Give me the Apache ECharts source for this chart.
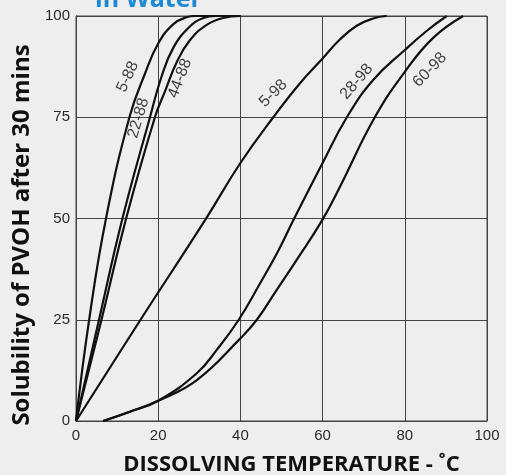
<!DOCTYPE html>
<html><head><meta charset="utf-8">
<script src="https://cdn.jsdelivr.net/npm/echarts@6/dist/echarts.min.js"></script>
<style>html,body{margin:0;padding:0;background:#eeeeee}#c{width:506px;height:475px}</style>
</head><body><div id="c"></div>
<script>
// Tick values
const xTicks = [0, 20, 40, 60, 80, 100];
const yTicks = [0, 25, 50, 75, 100];
// Curve names
const curveNames = ['5-88', '22-88', '44-88', '5-98', '28-98', '60-98'];
// Curve values [temperature, solubility]
const s5_88  = [[0,0],[3.2,25],[7.3,50],[13,75],[16.8,85.8],[20,93.2],[23.7,98],[26.9,99.7],[29,100],[40,100]];
const s22_88 = [[0,0],[5.6,25],[11.3,50],[18,75],[20.8,85],[23.7,92.2],[27.7,97.4],[31,99.5],[34,100],[40,100]];
const s44_88 = [[0,0],[6.2,25],[12.2,50],[19.2,75],[21.7,81.5],[24.5,88.6],[27.7,94],[31.8,97.8],[35.8,99.5],[40,100]];
const s5_98  = [[0,0],[15.7,25],[31.4,49.6],[40,63.7],[48,75],[54.5,83.4],[60,89.5],[64.2,94.2],[68.3,97.6],[72.3,99.4],[75.6,100]];
const s28_98 = [[6.6,0],[13.1,2.3],[20,5],[29.4,11.8],[34.2,17.5],[39.6,25],[44.8,34],[49,41.6],[52.9,49.6],[60,63.7],[65.9,75],[72.3,84.2],[80,91.6],[85.3,96.3],[90.2,100]];
const s60_98 = [[6.6,0],[13.1,2.3],[20,5],[29.4,10.1],[40,20.4],[44,25],[48.8,32.3],[53.7,39.8],[59.8,49.4],[64.2,57.8],[72.7,75],[80,86.2],[86.9,94.6],[94.2,100]];
const curveData = [s5_88, s22_88, s44_88, s5_98, s28_98, s60_98];
// Curve label anchor [x, y, rotation]
const labelPos = [[12.6,85,65],[15.2,74.8,73],[25.3,84.6,69],[48,80.9,45],[68.3,83.8,49],[86.1,86.7,46]];

const chart = echarts.init(document.getElementById('c'));
const lineSeries = curveNames.map((n, i) => ({
  name: n, type: 'line', data: curveData[i], showSymbol: false, symbol: 'none',
  smooth: 0.45, lineStyle: {color: '#111', width: 2.2}, z: 3
}));
const labelSeries = {
  type: 'scatter', symbolSize: 0, z: 5, silent: true,
  data: labelPos.map((p, i) => ({
    value: [p[0], p[1]],
    label: {show: true, formatter: curveNames[i], rotate: p[2], position: 'inside',
      color: '#111', fontSize: 16, fontFamily: 'Liberation Sans'}
  }))
};
chart.setOption({
  backgroundColor: '#eeeeee',
  animation: false,
  graphic: [{type: 'text', left: 95, top: -13,
    style: {text: 'in Water', fill: '#1a8ad4', font: 'bold 25px "Open Sans"'}}],
  grid: {left: 76, right: 19, top: 16, bottom: 54, outerBoundsMode: 'none', containLabel: false,
    show: true, borderColor: '#444', borderWidth: 1, backgroundColor: 'transparent'},
  xAxis: {type: 'value', min: xTicks[0], max: xTicks[xTicks.length-1], interval: 20,
    axisLine: {show: true, lineStyle: {color: '#444', width: 1}}, axisTick: {show: false},
    splitLine: {show: true, lineStyle: {color: '#444', width: 1}},
    axisLabel: {color: '#2a2a2a', fontSize: 15, fontFamily: 'Liberation Sans', margin: 7},
    name: 'DISSOLVING TEMPERATURE - ˚C', nameLocation: 'middle', nameGap: 33,
    nameTextStyle: {color: '#111', fontSize: 22, fontWeight: 'bold', fontFamily: 'Open Sans', padding: [0,0,0,20]}},
  yAxis: {type: 'value', min: yTicks[0], max: yTicks[yTicks.length-1], interval: 25,
    axisLine: {show: true, lineStyle: {color: '#444', width: 1}}, axisTick: {show: false},
    splitLine: {show: true, lineStyle: {color: '#444', width: 1}},
    axisLabel: {color: '#2a2a2a', fontSize: 15, fontFamily: 'Liberation Sans', margin: 6},
    name: 'Solubility of PVOH after 30 mins', nameLocation: 'middle', nameGap: 28,
    nameTextStyle: {color: '#111', fontSize: 24, fontWeight: 'bold', fontFamily: 'Open Sans', padding: [0,33,0,0]}},
  series: lineSeries.concat([labelSeries])
});
</script></body></html>
